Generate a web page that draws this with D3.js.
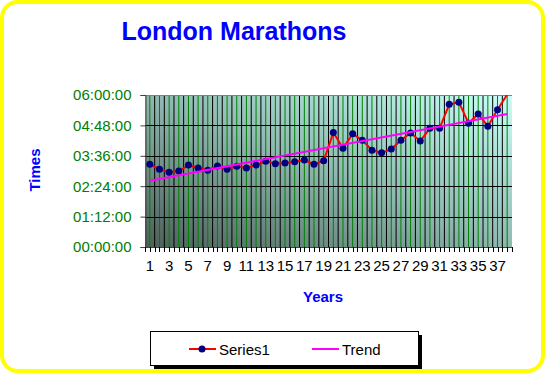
<!DOCTYPE html>
<html>
<head>
<meta charset="utf-8">
<script src="https://cdn.jsdelivr.net/npm/d3@7"></script>
<style>
body { margin: 0; background: #ffffff; }
svg { display: block; font-family: Arial, "Liberation Sans", sans-serif; }
</style>
</head>
<body>
<div id="viz"></div>
<script>
// race number 1..38, finishing time (h:mm)
years = d3.range(1, 39);
times = ["3:16","3:04","2:57","3:00","3:14","3:07","3:02","3:12","3:04","3:11",
         "3:07","3:14","3:23","3:17","3:19","3:22","3:26","3:16","3:24","4:31",
         "3:54","4:28","4:13","3:49","3:43","3:52","4:13","4:30","4:11","4:41",
         "4:41","5:38","5:43","4:53","5:15","4:46","5:25","6:01"];
// trend line read at first and last race
trendYears = [1, 38];
trendTimes = ["2:37", "5:15"];
yTicks = [0, 72, 144, 216, 288, 360]; // minutes
yTickLabels = ["00:00:00","01:12:00","02:24:00","03:36:00","04:48:00","06:00:00"];

width = 546;
height = 377;
plot = {left: 145, right: 512, top: 95, bottom: 247};

function toMin(s) { var p = s.split(":"); return +p[0]*60 + +p[1]; }

svg = d3.select("#viz").append("svg")
	.attr("width", width)
	.attr("height", height);

svg.append("rect")
	.attr("x", 2).attr("y", 2)
	.attr("width", 541).attr("height", 369)
	.attr("rx", 16).attr("ry", 16)
	.attr("fill", "white")
	.attr("stroke", "#ffff00")
	.attr("stroke-width", 4);

svg.append("text")
	.attr("x", 234).attr("y", 40)
	.attr("text-anchor", "middle")
	.attr("fill", "#0000ff")
	.style("font-size", "25px")
	.style("font-weight", "bold")
	.text("London Marathons");

var x = d3.scaleBand()
	.domain(years)
	.range([plot.left, plot.right])
	.padding(0);

var y = d3.scaleLinear()
	.domain([0, 360])
	.range([plot.bottom, plot.top]);

var defs = svg.append("defs");
var grad = defs.append("linearGradient")
	.attr("id", "bg")
	.attr("x1", 0).attr("y1", 1).attr("x2", 1).attr("y2", 0);
grad.append("stop").attr("offset", "0%").attr("stop-color", "#4b5f58");
grad.append("stop").attr("offset", "50%").attr("stop-color", "#8fb8b0");
grad.append("stop").attr("offset", "100%").attr("stop-color", "#c8fff8");

defs.append("clipPath").attr("id", "clip")
	.append("rect")
	.attr("x", plot.left).attr("y", plot.top)
	.attr("width", plot.right - plot.left).attr("height", plot.bottom - plot.top);

svg.append("rect")
	.attr("x", plot.left).attr("y", plot.top)
	.attr("width", plot.right - plot.left)
	.attr("height", plot.bottom - plot.top)
	.attr("fill", "url(#bg)");

// green lines at category centres, black at boundaries
svg.append("g").selectAll("line").data(years).enter().append("line")
	.attr("x1", function(d) {return x(d) + x.bandwidth()/2;})
	.attr("x2", function(d) {return x(d) + x.bandwidth()/2;})
	.attr("y1", plot.top).attr("y2", plot.bottom)
	.attr("stroke", "#008000").attr("stroke-width", 1);

svg.append("g").selectAll("line").data(years.slice(1)).enter().append("line")
	.attr("x1", function(d) {return x(d);})
	.attr("x2", function(d) {return x(d);})
	.attr("y1", plot.top).attr("y2", plot.bottom)
	.attr("stroke", "black").attr("stroke-width", 1);

svg.append("g").selectAll("line").data(yTicks.slice(1, 5)).enter().append("line")
	.attr("x1", plot.left).attr("x2", plot.right)
	.attr("y1", function(d) {return Math.round(y(d)) + 0.5;})
	.attr("y2", function(d) {return Math.round(y(d)) + 0.5;})
	.attr("stroke", "black").attr("stroke-width", 1);

svg.append("line")
	.attr("x1", plot.left).attr("x2", plot.right)
	.attr("y1", plot.top + 0.5).attr("y2", plot.top + 0.5)
	.attr("stroke", "#808080");

// y axis
var yAxis = svg.append("g")
	.attr("transform", "translate(" + (plot.left + 0.5) + ",0)")
	.call(d3.axisLeft(y).tickValues(yTicks).tickSize(5).tickPadding(9)
		.tickFormat(function(d, i) {return yTickLabels[i];}));
yAxis.selectAll("text").attr("fill", "#008000").style("font-size", "15px").style("font-family", "Arial, 'Liberation Sans'");
yAxis.selectAll("line").attr("stroke", "#404040");
yAxis.select(".domain").attr("stroke", "#404040");

// x axis: ticks at half categories, labels on odd ones
var halfTicks = d3.range(0, 77).map(function(i) {return plot.left + i * x.bandwidth() / 2;});
svg.append("line")
	.attr("x1", plot.left).attr("x2", plot.right)
	.attr("y1", plot.bottom + 0.5).attr("y2", plot.bottom + 0.5)
	.attr("stroke", "#404040");
svg.append("g").selectAll("line").data(halfTicks).enter().append("line")
	.attr("x1", function(d) {return Math.round(d) + 0.5;})
	.attr("x2", function(d) {return Math.round(d) + 0.5;})
	.attr("y1", plot.bottom).attr("y2", plot.bottom + 5)
	.attr("stroke", "black");
svg.append("g").selectAll("text").data(years.filter(function(d) {return d % 2 == 1;})).enter().append("text")
	.attr("x", function(d) {return x(d) + x.bandwidth()/2;})
	.attr("y", 271)
	.attr("text-anchor", "middle")
	.style("font-size", "15px")
	.text(function(d) {return d;});

svg.append("text")
	.attr("transform", "translate(40,170) rotate(-90)")
	.attr("text-anchor", "middle")
	.attr("fill", "#0000ff")
	.style("font-size", "15px")
	.style("font-weight", "bold")
	.text("Times");

svg.append("text")
	.attr("x", 323).attr("y", 302)
	.attr("text-anchor", "middle")
	.attr("fill", "#0000ff")
	.style("font-size", "15px")
	.style("font-weight", "bold")
	.text("Years");

var line = d3.line()
	.x(function(d, i) {return x(years[i]) + x.bandwidth()/2;})
	.y(function(d) {return y(toMin(d));});

var trendLine = d3.line()
	.x(function(d, i) {return x(trendYears[i]) + x.bandwidth()/2;})
	.y(function(d) {return y(toMin(d));});

var g = svg.append("g").attr("clip-path", "url(#clip)");

g.append("path").datum(times)
	.attr("d", line)
	.attr("fill", "none")
	.attr("stroke", "#ff0000")
	.attr("stroke-width", 2);

g.selectAll("circle").data(times.filter(function(d) {return toMin(d) <= 360;})).enter().append("circle")
	.attr("cx", function(d, i) {return x(years[i]) + x.bandwidth()/2;})
	.attr("cy", function(d) {return y(toMin(d));})
	.attr("r", 3.5)
	.attr("fill", "#000080");

g.append("path").datum(trendTimes)
	.attr("d", trendLine)
	.attr("fill", "none")
	.attr("stroke", "#ff00ff")
	.attr("stroke-width", 2);

// legend
legend = svg.append("g");
legend.append("rect")
	.attr("x", 154).attr("y", 335).attr("width", 268).attr("height", 34)
	.attr("fill", "black");
legend.append("rect")
	.attr("x", 150.5).attr("y", 331.5).attr("width", 268).attr("height", 34)
	.attr("fill", "white").attr("stroke", "black");

names = ["Series1", "Trend"];
colors = ["#ff0000", "#ff00ff"];
legendX = [189, 312];

legend.selectAll("line").data(colors).enter().append("line")
	.attr("x1", function(d, i) {return legendX[i];})
	.attr("x2", function(d, i) {return legendX[i] + 27;})
	.attr("y1", 349).attr("y2", 349)
	.attr("stroke", function(d) {return d;})
	.attr("stroke-width", 2);
legend.append("circle")
	.attr("cx", 202).attr("cy", 349).attr("r", 3.5)
	.attr("fill", "#000080");
legend.selectAll("text").data(names).enter().append("text")
	.attr("x", function(d, i) {return legendX[i] + 30;})
	.attr("y", 354.5)
	.style("font-size", "15px")
	.text(function(d) {return d;});
</script>
</body>
</html>
